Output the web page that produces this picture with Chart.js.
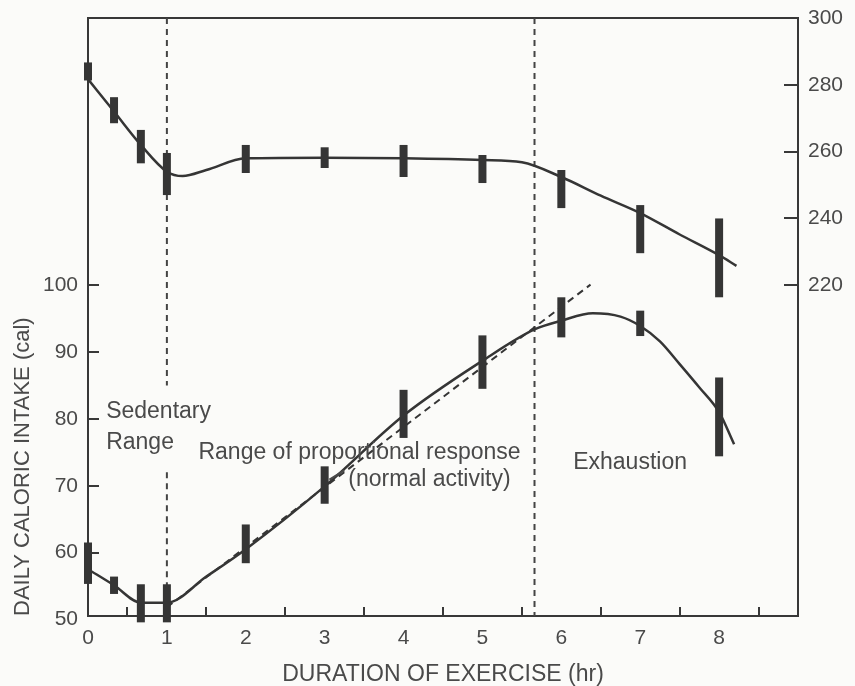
<!DOCTYPE html>
<html><head><meta charset="utf-8">
<script src="https://cdn.jsdelivr.net/npm/chart.js@4"></script>
<style>html,body{margin:0;padding:0;background:#fbfbf9}#wrap{width:855px;height:686px;position:relative}</style>
</head><body><div id="wrap"><canvas id="c"></canvas></div>
<script>
// ---- data ----
const hours = [0, 0.33, 0.67, 1, 2, 3, 4, 5, 6, 7, 8];
// upper series (right axis)
const upperMean = [284, 272.4, 261.5, 253.3, 257.8, 258.2, 257.2, 254.8, 248.8, 236.8, 228.2];
const upperErr  = [2.7, 3.9, 5.0, 6.3, 4.2, 3.1, 4.8, 4.2, 5.7, 7.2, 11.8];
// lower series: daily caloric intake (left axis)
const intakeMean = [58.4, 55.1, 52.4, 52.4, 61.3, 70.1, 80.75, 88.5, 95.2, 94.3, 80.3];
const intakeErr  = [3.1, 1.3, 2.85, 2.85, 2.9, 2.8, 3.6, 4.0, 3.0, 1.9, 5.9];
// smooth drawn curves
const upperCurveHours  = [0, 0.33, 0.67, 1, 1.2, 1.5, 2, 3, 4, 5, 5.5, 6, 6.5, 7, 7.5, 8, 8.22];
const upperCurveValues = [281.7, 272, 262, 254, 252.7, 254.5, 258, 258.2, 258, 257.5, 256.8, 252.4, 246.8, 241.6, 235.2, 229, 225.8];
const intakeCurveHours  = [0, 0.33, 0.67, 1, 1.5, 2, 3, 4, 5, 5.66, 6, 6.4, 6.75, 7, 7.25, 7.5, 7.75, 8, 8.19];
const intakeCurveValues = [57.5, 55.1, 52.5, 52.5, 56.4, 60.5, 69.9, 80.5, 88.7, 93.4, 94.7, 95.8, 95.3, 93.9, 91.6, 88.2, 84.7, 81.0, 76.2];
// dashed proportional-response line
const fitHours  = [1, 6.37];
const fitValues = [51.8, 100.1];
// range boundaries (hours)
const sedentaryBoundary = 1;
const exhaustionBoundary = 5.66;
// ticks
const xTicks = [0, 1, 2, 3, 4, 5, 6, 7, 8];
const leftTicks = [50, 60, 70, 80, 90, 100];
const rightTicks = [220, 240, 260, 280, 300];

// ---- annotation text ----
const noteTexts = ['Sedentary', 'Range', 'Range of proportional response', '(normal activity)', 'Exhaustion'];
const noteAnchors = [[0.23, 81.1], [0.23, 76.5], [1.40, 75.0], [3.30, 70.9], [6.15, 73.5]];
const leaderFrom = [3.25, 72.3], leaderTo = [3.06, 70.9];

const AX = '#383838', TXT = '#4a4a4a', INK = '#353535';
const FONT = "'Liberation Sans', Arial, sans-serif";
const LEFT_MIN = 50.5, LEFT_MAX = 140, RIGHT_MIN = 121, RIGHT_MAX = 300;

const pts = (xs, ys) => xs.map((x, i) => ({x, y: ys[i]}));
const bars = (xs, m, e) => xs.map((x, i) => ({x, y: [m[i] - e[i], m[i] + e[i]]}));

const lineBase = {type: 'line', pointRadius: 0, fill: false, borderColor: INK, clip: false};

const datasets = [
  {type: 'bar', data: bars(hours, upperMean, upperErr), yAxisID: 'y1', backgroundColor: INK, borderWidth: 0, grouped: false, maxBarThickness: 8, clip: false},
  {type: 'bar', data: bars(hours, intakeMean, intakeErr), yAxisID: 'y', backgroundColor: INK, borderWidth: 0, grouped: false, maxBarThickness: 8, clip: false},
  {...lineBase, data: pts(upperCurveHours, upperCurveValues), yAxisID: 'y1', borderWidth: 2.5, cubicInterpolationMode: 'monotone'},
  {...lineBase, data: pts(intakeCurveHours, intakeCurveValues), yAxisID: 'y', borderWidth: 2.5, cubicInterpolationMode: 'monotone'},
  {...lineBase, data: pts(fitHours, fitValues), yAxisID: 'y', borderWidth: 2, borderDash: [7, 5]},
  {...lineBase, data: pts([sedentaryBoundary, sedentaryBoundary], [LEFT_MAX, 85]), yAxisID: 'y', borderWidth: 2, borderDash: [6, 5], borderColor: '#444'},
  {...lineBase, data: pts([sedentaryBoundary, sedentaryBoundary], [72, LEFT_MIN]), yAxisID: 'y', borderWidth: 2, borderDash: [6, 5], borderColor: '#444'},
  {...lineBase, data: pts([exhaustionBoundary, exhaustionBoundary], [LEFT_MAX, LEFT_MIN]), yAxisID: 'y', borderWidth: 2, borderDash: [6, 5], borderColor: '#444'}
];

const notesPlugin = {
  id: 'notes',
  afterDatasetsDraw(chart) {
    const {ctx, scales} = chart;
    const px = v => scales.x.getPixelForValue(v), py = v => scales.y.getPixelForValue(v);
    ctx.save();
    ctx.fillStyle = TXT;
    ctx.font = "23px " + FONT;
    ctx.textAlign = 'left';
    ctx.textBaseline = 'middle';
    noteTexts.forEach((t, i) => ctx.fillText(t, px(noteAnchors[i][0]), py(noteAnchors[i][1])));
    ctx.strokeStyle = TXT;
    ctx.lineWidth = 2;
    ctx.beginPath();
    ctx.moveTo(px(leaderFrom[0]), py(leaderFrom[1]));
    ctx.lineTo(px(leaderTo[0]), py(leaderTo[1]));
    ctx.stroke();
    ctx.restore();
  }
};

const hideAt = vals => ctx => (ctx.tick && vals.includes(ctx.tick.value)) ? 'rgba(0,0,0,0)' : AX;
const tickFont = {family: FONT, size: 21};
const noPad = s => { s.paddingTop = 0; s.paddingBottom = 0; s.paddingLeft = 0; s.paddingRight = 0; };

new Chart(document.getElementById('c'), {
  type: 'line',
  data: {datasets},
  plugins: [notesPlugin],
  options: {
    responsive: true, maintainAspectRatio: false, animation: false,
    layout: {padding: 0},
    plugins: {legend: {display: false}, tooltip: {enabled: false}},
    scales: {
      x: {
        type: 'linear', position: 'bottom', min: 0, max: 9, offset: false,
        afterBuildTicks: s => { s.ticks = xTicks.map(v => ({value: v})); },
        afterFit: s => { s.height = 70; noPad(s); },
        grid: {display: true, drawOnChartArea: false, drawTicks: true, tickLength: -9, color: hideAt([0]), lineWidth: 2},
        border: {display: true, color: AX, width: 2},
        ticks: {padding: 19, color: TXT, font: tickFont, maxRotation: 0, autoSkip: false},
        title: {display: true, text: 'DURATION OF EXERCISE (hr)', color: TXT, font: {family: FONT, size: 23}, padding: {top: 0, bottom: -2}}
      },
      xTop: {
        type: 'linear', axis: 'x', position: 'top', min: 0, max: 9,
        ticks: {display: false}, grid: {display: false},
        border: {display: true, color: AX, width: 2},
        afterFit: s => { s.height = 18; noPad(s); }
      },
      y: {
        type: 'linear', position: 'left', min: LEFT_MIN, max: LEFT_MAX,
        afterBuildTicks: s => { s.ticks = leftTicks.map(v => ({value: v})); },
        afterFit: s => { s.width = 88; noPad(s); },
        grid: {display: true, drawOnChartArea: false, drawTicks: true, tickLength: -11, color: hideAt([50]), lineWidth: 2},
        border: {display: true, color: AX, width: 2},
        ticks: {padding: 21, color: TXT, font: tickFont},
        title: {display: true, text: 'DAILY CALORIC INTAKE (cal)', align: 'start', color: TXT, font: {family: FONT, size: 22}, padding: {top: 10, bottom: 0}}
      },
      y1: {
        type: 'linear', position: 'right', min: RIGHT_MIN, max: RIGHT_MAX,
        afterBuildTicks: s => { s.ticks = rightTicks.map(v => ({value: v})); },
        afterFit: s => { s.width = 57; noPad(s); },
        grid: {display: true, drawOnChartArea: false, drawTicks: true, tickLength: -14, color: hideAt([300]), lineWidth: 2},
        border: {display: true, color: AX, width: 2},
        ticks: {padding: 24, color: TXT, font: tickFont}
      }
    }
  }
});
</script></body></html>
